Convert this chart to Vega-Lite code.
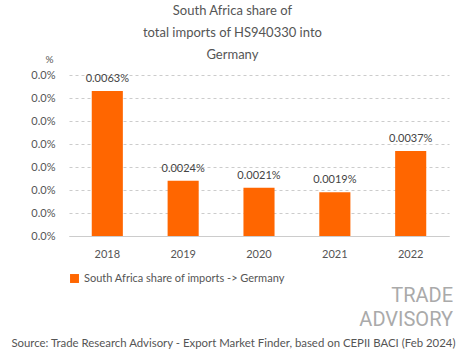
{
  "$schema": "https://vega.github.io/schema/vega-lite/v6.json",
  "padding": {"left": 10, "top": 5, "right": 10, "bottom": 10},
  "background": "white",
  "config": {
    "font": "Lato",
    "view": {"stroke": null},
    "title": {"color": "#555555", "font": "Lato", "fontWeight": "normal"}
  },
  "title": {
    "text": ["South Africa share of", "total imports of HS940330 into", "Germany"],
    "fontSize": 13,
    "lineHeight": 22,
    "anchor": "middle",
    "dx": -1,
    "offset": -8
  },
  "resolve": {"legend": {"color": "independent"}},
  "vconcat": [
    {
      "title": {
        "text": "Source: Trade Research Advisory - Export Market Finder, based on CEPII BACI (Feb 2024)",
        "orient": "bottom",
        "fontSize": 11.4,
        "anchor": "middle",
        "dx": -8.5,
        "offset": 8
      },
      "resolve": {"legend": {"color": "independent"}},
      "vconcat": [
        {
          "title": {
            "text": ["TRADE", "ADVISORY"],
            "orient": "bottom",
            "anchor": "end",
            "fontSize": 20,
            "lineHeight": 24,
            "font": "Roboto",
            "fontWeight": "normal",
            "color": "#aaaaaa",
            "dx": 4,
            "offset": 2
          },
          "width": 380,
          "height": 161,
          "data": {
            "values": [
              {"year": "2018", "share": 0.000063, "series": "South Africa share of imports -> Germany"},
              {"year": "2019", "share": 0.000024, "series": "South Africa share of imports -> Germany"},
              {"year": "2020", "share": 0.000021, "series": "South Africa share of imports -> Germany"},
              {"year": "2021", "share": 0.000019, "series": "South Africa share of imports -> Germany"},
              {"year": "2022", "share": 0.000037, "series": "South Africa share of imports -> Germany"}
            ]
          },
          "encoding": {
            "x": {
              "field": "year",
              "type": "nominal",
              "scale": {"paddingInner": 0.59, "paddingOuter": 0.3},
              "axis": {
                "title": null,
                "labelAngle": 0,
                "labelFontSize": 11,
                "labelColor": "#555555",
                "labelPadding": 12,
                "ticks": false,
                "domain": true,
                "domainColor": "#cccccc",
                "grid": false
              }
            },
            "y": {
              "field": "share",
              "type": "quantitative",
              "scale": {"domain": [0, 0.00007], "nice": false},
              "axis": {
                "title": "%",
                "titleAngle": 0,
                "titleFontSize": 10,
                "titleFontWeight": "normal",
                "titleColor": "#555555",
                "titleX": -20,
                "titleY": -11,
                "titleAlign": "center",
                "values": [0, 0.00001, 0.00002, 0.00003, 0.00004, 0.00005, 0.00006, 0.00007],
                "format": ".1%",
                "labelFontSize": 11,
                "labelColor": "#555555",
                "labelPadding": 14,
                "ticks": false,
                "domain": false,
                "grid": true,
                "gridDash": [3, 3],
                "gridColor": "#cccccc"
              }
            }
          },
          "layer": [
            {
              "mark": {"type": "bar"},
              "encoding": {
                "color": {
                  "field": "series",
                  "type": "nominal",
                  "scale": {"range": ["#ff6600"]},
                  "legend": {
                    "title": null,
                    "orient": "bottom",
                    "symbolType": "square",
                    "symbolSize": 80,
                    "labelFontSize": 11,
                    "labelColor": "#555555",
                    "labelFont": "Lato",
                    "labelLimit": 400,
                    "offset": 14
                  }
                }
              }
            },
            {
              "mark": {"type": "text", "dy": -12, "fontSize": 11, "color": "#444444"},
              "encoding": {
                "text": {"field": "share", "type": "quantitative", "format": ".4%"}
              }
            }
          ]
        }
      ]
    }
  ]
}
